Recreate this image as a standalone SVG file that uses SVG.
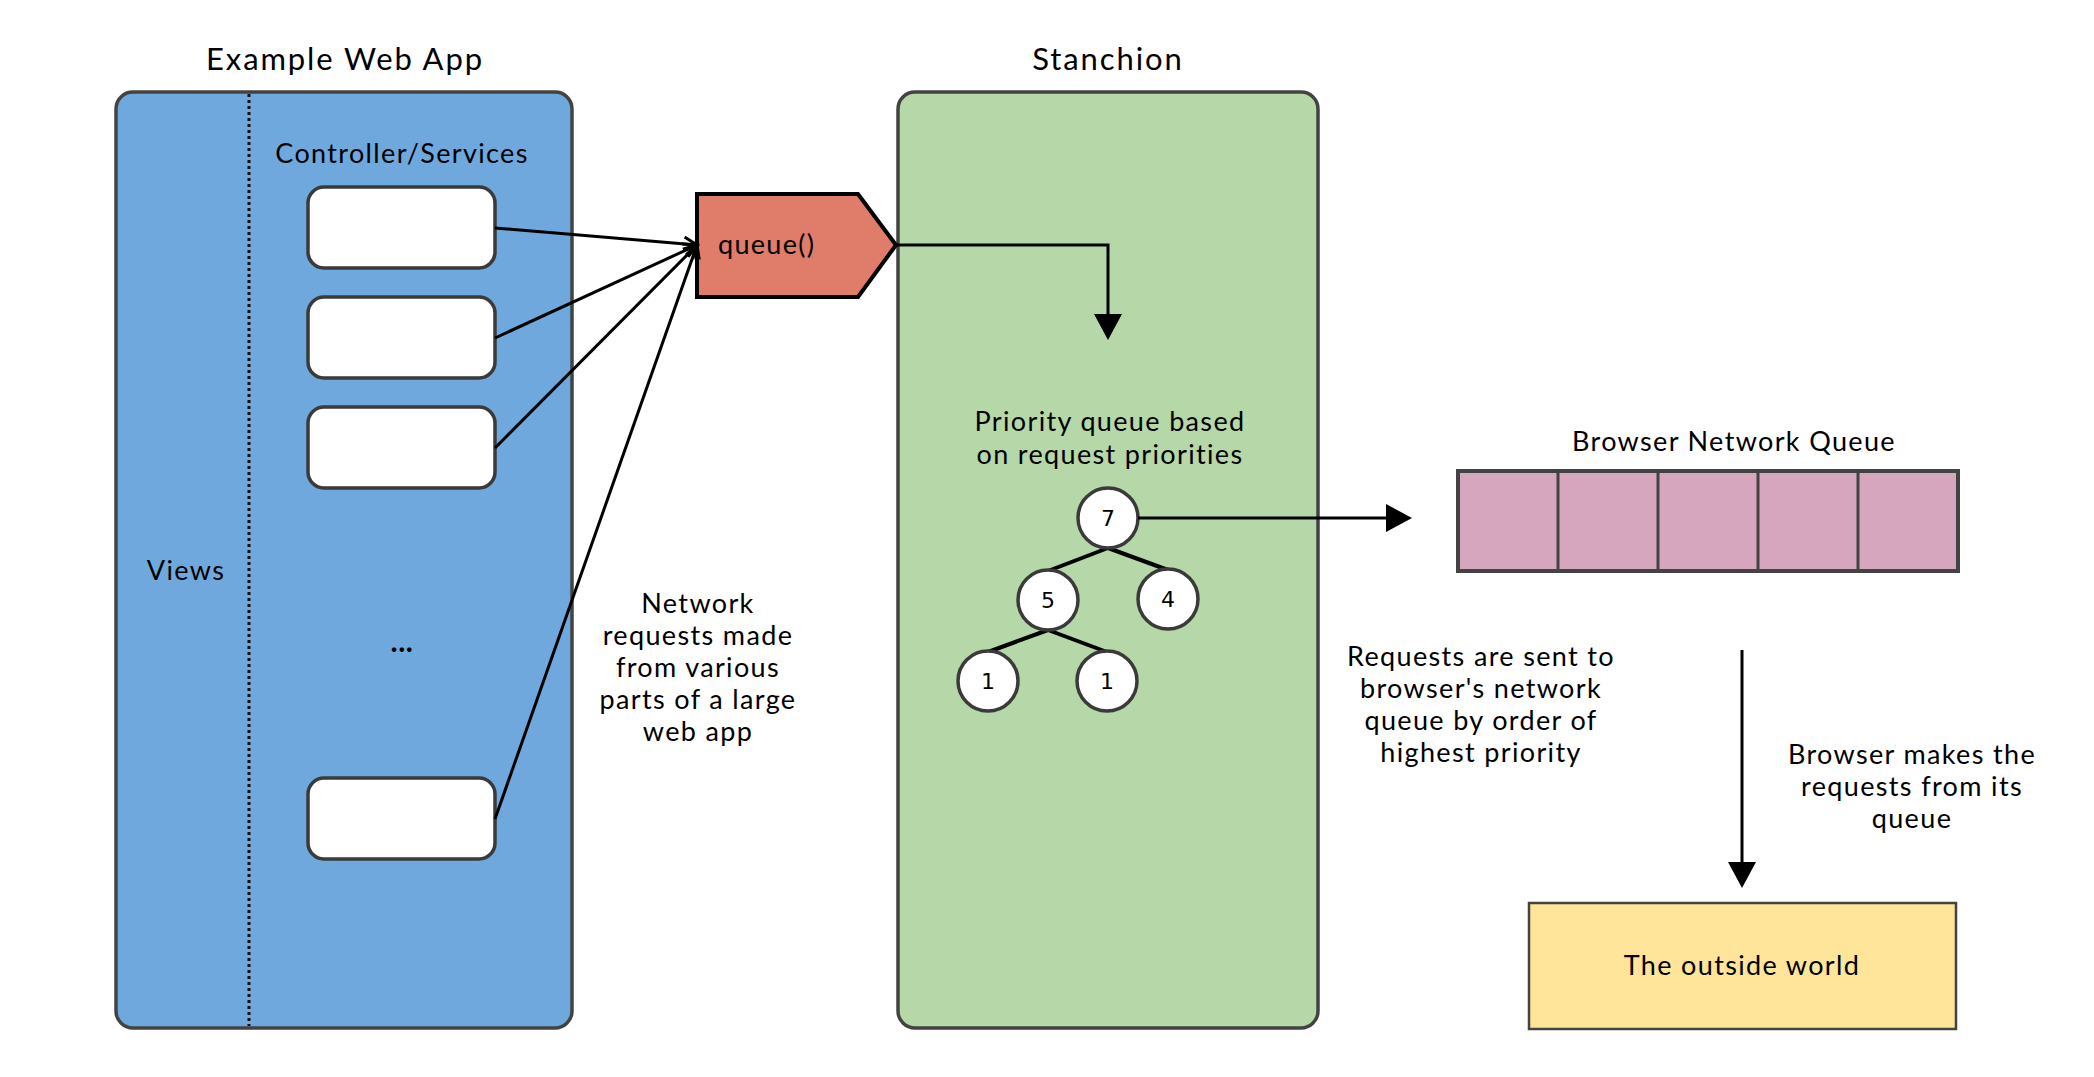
<svg xmlns="http://www.w3.org/2000/svg" width="2094" height="1077" viewBox="0 0 2094 1077">
<style>
  .t { font-family: Lato, "Open Sans", "Liberation Sans", sans-serif; fill: #000; text-anchor: middle; }
  .title { font-size: 31px; letter-spacing: 1.9px; }
  .body { font-size: 27px; letter-spacing: 1.35px; }
  .num { font-family: "DejaVu Sans", sans-serif; font-size: 22px; text-anchor: middle; fill: #000; }
  .cont { stroke: #434343; stroke-width: 3.5; }
  .wbox { fill: #fff; stroke: #3a3a3a; stroke-width: 3.5; }
  .circ { fill: #fff; stroke: #3a3a3a; stroke-width: 3.5; }
  .conn { fill: none; stroke: #000; stroke-width: 3; }
  .tree { stroke: #000; stroke-width: 4; }
</style>
<defs>
  <marker id="open" markerUnits="userSpaceOnUse" viewBox="0 0 20 20" markerWidth="20" markerHeight="20" refX="16" refY="10" orient="auto">
    <path d="M3,3 L16,10 L3,17" fill="none" stroke="#000" stroke-width="3"/>
  </marker>
  <marker id="block" markerUnits="userSpaceOnUse" viewBox="0 0 26 28" markerWidth="26" markerHeight="28" refX="0" refY="14" orient="auto">
    <path d="M0,0 L26,14 L0,28 Z" fill="#000"/>
  </marker>
</defs>
<rect width="2094" height="1077" fill="#fff"/>

<g id="web-app">
  <rect x="116" y="92" width="456" height="936" rx="17" fill="#6fa8dc" class="cont"/>
  <line x1="249" y1="94" x2="249" y2="1026" stroke="#111" stroke-width="3" stroke-dasharray="3 3"/>
  <text class="t title" x="345" y="70">Example Web App</text>
  <text class="t body" x="402" y="163">Controller/Services</text>
  <text class="t body" x="186" y="580">Views</text>
  <text class="t body" x="402" y="652" style="font-size:30px;font-weight:bold;letter-spacing:0.5px">...</text>
</g>
<g id="box1"><rect x="308" y="187" width="187" height="81" rx="16" class="wbox"/></g>
<g id="box2"><rect x="308" y="297" width="187" height="81" rx="16" class="wbox"/></g>
<g id="box3"><rect x="308" y="407" width="187" height="81" rx="16" class="wbox"/></g>
<g id="box4"><rect x="308" y="778" width="187" height="81" rx="16" class="wbox"/></g>

<g id="stanchion">
  <rect x="898" y="92" width="420" height="936" rx="17" fill="#b6d7a8" class="cont"/>
  <text class="t title" x="1108" y="70">Stanchion</text>
  <text class="t body" x="1110" y="431">Priority queue based</text>
  <text class="t body" x="1110" y="464">on request priorities</text>
</g>

<g id="queue">
  <path d="M697,194 H858 L896,245 L858,297 H697 Z" fill="#df7c6a" stroke="#000" stroke-width="4"/>
  <text class="t body" x="718" y="254" style="text-anchor:start;font-size:27px;letter-spacing:1.3px">queue()</text>
</g>

<g id="tree">
  <line class="tree" x1="1108" y1="548" x2="1048" y2="571"/>
  <line class="tree" x1="1108" y1="548" x2="1168" y2="570"/>
  <line class="tree" x1="1048" y1="630" x2="988" y2="652"/>
  <line class="tree" x1="1048" y1="630" x2="1107" y2="652"/>
  <g id="n7"><circle cx="1108" cy="518" r="30" class="circ"/><text class="num" x="1108" y="526">7</text></g>
  <g id="n5"><circle cx="1048" cy="600" r="30" class="circ"/><text class="num" x="1048" y="608">5</text></g>
  <g id="n4"><circle cx="1168" cy="599" r="30" class="circ"/><text class="num" x="1168" y="607">4</text></g>
  <g id="n1a"><circle cx="988" cy="681" r="30" class="circ"/><text class="num" x="988" y="689">1</text></g>
  <g id="n1b"><circle cx="1107" cy="681" r="30" class="circ"/><text class="num" x="1107" y="689">1</text></g>
</g>

<g id="browser-queue">
  <text class="t body" x="1734" y="451">Browser Network Queue</text>
  <rect x="1458" y="471" width="500" height="100" fill="#d5a6bd" stroke="#434343" stroke-width="4"/>
  <line x1="1558" y1="471" x2="1558" y2="571" stroke="#434343" stroke-width="3"/>
  <line x1="1658" y1="471" x2="1658" y2="571" stroke="#434343" stroke-width="3"/>
  <line x1="1758" y1="471" x2="1758" y2="571" stroke="#434343" stroke-width="3"/>
  <line x1="1858" y1="471" x2="1858" y2="571" stroke="#434343" stroke-width="3"/>
</g>

<g id="outside-world">
  <rect x="1529" y="903" width="427" height="126" fill="#ffe599" stroke="#434343" stroke-width="2.5"/>
  <text class="t body" x="1742" y="975">The outside world</text>
</g>

<g id="labels">
  <text class="t body" x="698" y="613">Network</text>
  <text class="t body" x="698" y="645">requests made</text>
  <text class="t body" x="698" y="677">from various</text>
  <text class="t body" x="698" y="709">parts of a large</text>
  <text class="t body" x="698" y="741">web app</text>
  <text class="t body" x="1481" y="666">Requests are sent to</text>
  <text class="t body" x="1481" y="698">browser's network</text>
  <text class="t body" x="1481" y="730">queue by order of</text>
  <text class="t body" x="1481" y="762">highest priority</text>
  <text class="t body" x="1912" y="764">Browser makes the</text>
  <text class="t body" x="1912" y="796">requests from its</text>
  <text class="t body" x="1912" y="828">queue</text>
</g>

<g id="connectors">
  <line class="conn" x1="495" y1="228" x2="697" y2="245" marker-end="url(#open)"/>
  <line class="conn" x1="495" y1="338" x2="697" y2="245" marker-end="url(#open)"/>
  <line class="conn" x1="495" y1="448" x2="697" y2="245" marker-end="url(#open)"/>
  <line class="conn" x1="495" y1="819" x2="697" y2="245" marker-end="url(#open)"/>
  <path class="conn" d="M896,245 H1108 V314" marker-end="url(#block)"/>
  <path class="conn" d="M1138,518 H1386" marker-end="url(#block)"/>
  <path class="conn" d="M1742,650 V862" marker-end="url(#block)"/>
</g>
</svg>
